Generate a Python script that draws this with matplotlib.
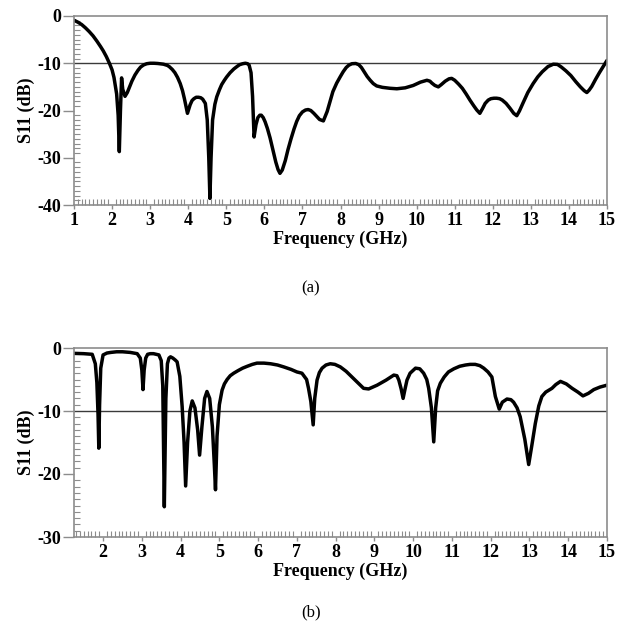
import matplotlib
matplotlib.use("Agg")
import matplotlib.pyplot as plt
from matplotlib.ticker import MultipleLocator

plt.rcParams["font.family"] = ["Liberation Serif", "DejaVu Serif"]
plt.rcParams["axes.unicode_minus"] = False

# Panel (a): measured S11 of the first antenna
freq_a = [1.00, 1.10, 1.20, 1.30, 1.40, 1.50, 1.60, 1.70, 1.77, 1.85, 1.93, 2.00,
          2.05, 2.12, 2.16, 2.19, 2.22, 2.25, 2.28, 2.34, 2.40, 2.45, 2.52, 2.60,
          2.68, 2.75, 2.83, 2.91, 3.00, 3.10, 3.20, 3.35, 3.45, 3.50, 3.58, 3.65,
          3.72, 3.79, 3.85, 3.90, 3.98, 4.05, 4.10, 4.15, 4.21, 4.27, 4.33, 4.38,
          4.45, 4.50, 4.54, 4.57, 4.60, 4.64, 4.70, 4.75, 4.82, 4.88, 4.95, 5.01,
          5.10, 5.20, 5.28, 5.35, 5.43, 5.50, 5.56, 5.60, 5.65, 5.69, 5.73, 5.78,
          5.83, 5.88, 5.92, 5.97, 6.02, 6.08, 6.15, 6.22, 6.30, 6.36, 6.41, 6.47,
          6.55, 6.62, 6.70, 6.78, 6.85, 6.92, 7.00, 7.08, 7.15, 7.22, 7.30, 7.38,
          7.45, 7.55, 7.65, 7.72, 7.80, 7.90, 7.99, 8.07, 8.15, 8.22, 8.30, 8.40,
          8.48, 8.55, 8.62, 8.70, 8.78, 8.86, 8.95, 9.10, 9.30, 9.48, 9.70, 9.91,
          10.10, 10.27, 10.35, 10.40, 10.48, 10.57, 10.65, 10.75, 10.85, 10.92,
          11.00, 11.10, 11.20, 11.30, 11.40, 11.50, 11.58, 11.66, 11.73, 11.80,
          11.88, 11.95, 12.03, 12.10, 12.18, 12.25, 12.35, 12.45, 12.55, 12.63,
          12.70, 12.80, 12.92, 13.06, 13.18, 13.30, 13.45, 13.59, 13.70, 13.80,
          13.92, 14.05, 14.18, 14.30, 14.40, 14.47, 14.53, 14.60, 14.70, 14.80,
          14.90, 15.00]
s11_a = [-0.9, -1.3, -1.8, -2.5, -3.3, -4.2, -5.3, -6.5, -7.4, -8.6, -10.0, -11.4,
         -13.0, -16.5, -21.0, -28.7, -20.0, -13.1, -15.5, -17.0, -16.2, -15.2, -13.8, -12.5,
         -11.5, -10.8, -10.35, -10.1, -10.0, -10.0, -10.05, -10.2, -10.45, -10.7, -11.3, -12.0,
         -13.0, -14.3, -15.8, -17.5, -20.6, -18.8, -17.9, -17.5, -17.2, -17.2, -17.3, -17.6,
         -18.5, -22.0, -30.0, -38.6, -30.0, -22.0, -18.7, -17.1, -15.6, -14.5, -13.6, -12.9,
         -12.0, -11.2, -10.7, -10.3, -10.1, -10.0, -10.1, -10.4, -12.0, -17.0, -25.6, -23.0,
         -21.5, -21.0, -21.0, -21.5, -22.4, -23.8, -25.8, -28.2, -30.9, -32.5, -33.3, -32.6,
         -30.6, -28.3, -26.0, -23.9, -22.3, -21.1, -20.3, -19.9, -19.8, -20.0, -20.6, -21.3,
         -21.9, -22.2, -20.2, -18.2, -16.0, -14.2, -12.9, -11.8, -10.9, -10.4, -10.1, -10.05,
         -10.3, -10.9, -11.8, -12.8, -13.6, -14.3, -14.8, -15.1, -15.3, -15.4, -15.2, -14.7,
         -14.0, -13.6, -13.8, -14.2, -14.7, -15.0, -14.5, -13.8, -13.3, -13.2,
         -13.6, -14.4, -15.3, -16.5, -17.8, -19.0, -19.9, -20.6, -19.6, -18.5,
         -17.8, -17.5, -17.4, -17.4, -17.5, -17.8, -18.5, -19.5, -20.6, -21.1,
         -20.1, -18.3, -16.2, -14.3, -12.9, -11.8, -10.7, -10.2, -10.25, -10.8,
         -11.6, -12.6, -13.9, -15.0, -15.8, -16.2, -15.7, -14.9, -13.4, -12.0,
         -10.7, -9.4]

# Panel (b): measured S11 of the second antenna
freq_b = [1.25, 1.50, 1.72, 1.80, 1.84, 1.87, 1.89, 1.91, 1.94, 2.00, 2.10, 2.20,
          2.35, 2.50, 2.70, 2.88, 2.96, 3.00, 3.03, 3.06, 3.10, 3.15, 3.22, 3.30,
          3.44, 3.50, 3.54, 3.58, 3.62, 3.66, 3.70, 3.74, 3.80, 3.86, 3.91, 3.98,
          4.04, 4.09, 4.13, 4.18, 4.24, 4.30, 4.37, 4.44, 4.49, 4.55, 4.62, 4.68,
          4.75, 4.82, 4.87, 4.90, 4.94, 5.00, 5.07, 5.13, 5.20, 5.28, 5.37, 5.48,
          5.60, 5.72, 5.85, 5.97, 6.15, 6.32, 6.50, 6.66, 6.85, 7.00, 7.13, 7.25,
          7.30, 7.36, 7.42, 7.46, 7.52, 7.58, 7.65, 7.75, 7.86, 7.98, 8.12, 8.27,
          8.42, 8.57, 8.72, 8.85, 9.07, 9.30, 9.50, 9.58, 9.63, 9.69, 9.74, 9.79,
          9.84, 9.92, 10.06, 10.17, 10.27, 10.35, 10.40, 10.47, 10.53, 10.58, 10.63,
          10.70, 10.80, 10.91, 11.05, 11.20, 11.35, 11.47, 11.60, 11.72, 11.82,
          11.93, 12.03, 12.12, 12.22, 12.30, 12.42, 12.52, 12.59, 12.68, 12.76,
          12.88, 12.98, 13.06, 13.15, 13.24, 13.32, 13.42, 13.50, 13.58, 13.68,
          13.80, 13.95, 14.10, 14.25, 14.38, 14.52, 14.66, 14.82, 15.00]
s11_b = [-0.85, -0.9, -1.0, -2.5, -5.5, -10.5, -15.9, -9.0, -3.2, -1.1, -0.8, -0.7,
         -0.6, -0.6, -0.7, -0.9, -1.6, -3.5, -6.6, -3.5, -1.6, -1.0, -0.9, -0.9,
         -1.1, -2.0, -6.0, -25.2, -8.0, -2.5, -1.6, -1.4, -1.6, -1.9, -2.2, -4.5,
         -9.3, -15.0, -21.9, -15.0, -10.0, -8.4, -9.5, -13.0, -17.0, -12.5, -8.0, -6.9,
         -8.0, -12.5, -18.5, -22.5, -14.0, -9.0, -6.7, -5.7, -5.0, -4.4, -4.0, -3.6,
         -3.2, -2.9, -2.6, -2.4, -2.4, -2.5, -2.7, -3.0, -3.4, -3.8, -4.0, -5.0,
         -6.4, -8.5, -12.2, -8.0, -5.1, -3.9, -3.2, -2.7, -2.5, -2.6, -3.0, -3.7,
         -4.6, -5.5, -6.4, -6.5, -5.9, -5.1, -4.3, -4.4, -5.1, -6.5, -8.0, -6.5,
         -5.1, -4.0, -3.2, -3.3, -4.0, -5.0, -6.4, -9.5, -14.9, -9.5, -6.8,
         -5.6, -4.6, -3.8, -3.3, -2.9, -2.7, -2.6, -2.6, -2.8, -3.2,
         -3.8, -4.6, -7.7, -9.7, -8.6, -8.1, -8.2, -8.6, -9.5, -10.9,
         -14.5, -18.5, -15.5, -12.0, -9.2, -7.7, -7.0, -6.7, -6.4, -5.8,
         -5.3, -5.7, -6.4, -7.0, -7.6, -7.2, -6.6, -6.2, -5.9]

x_ticks_a = list(range(1, 16))
x_ticks_b = list(range(2, 16))
y_ticks_a = [0, -10, -20, -30, -40]
y_ticks_b = [0, -10, -20, -30]

W, H = 629, 635
fig = plt.figure(figsize=(W / 100, H / 100), dpi=100)

AX_L, AX_R = 74, 607
panels = [
    dict(top=16, bottom=205, f=freq_a, s=s11_a, xlim=(1, 15), ylim=(-40, 0),
         xt=x_ticks_a, yt=y_ticks_a, cap="(a)", cap_y=288),
    dict(top=348, bottom=537, f=freq_b, s=s11_b, xlim=(1.25, 15), ylim=(-30, 0),
         xt=x_ticks_b, yt=y_ticks_b, cap="(b)", cap_y=612),
]

spine_c = "#8c8c8c"
for p in panels:
    ax = fig.add_axes([AX_L / W, 1 - p["bottom"] / H,
                       (AX_R - AX_L) / W, (p["bottom"] - p["top"]) / H])
    ax.plot(p["f"], p["s"], color="black", lw=2.5, solid_joinstyle="round",
            solid_capstyle="round")
    ax.axhline(-10, color="#3a3a3a", lw=1.0, zorder=1)
    ax.set_xlim(*p["xlim"])
    ax.set_ylim(*p["ylim"])
    ax.set_xticks(p["xt"])
    ax.set_yticks(p["yt"])
    ax.xaxis.set_minor_locator(MultipleLocator(0.1))
    ax.yaxis.set_minor_locator(MultipleLocator(1))
    for sp in ax.spines.values():
        sp.set_color(spine_c)
        sp.set_linewidth(1.2)
    ax.tick_params(axis="both", which="major", direction="out", color=spine_c,
                   width=1.0, labelsize=13)
    ax.tick_params(axis="y", which="major", length=8, pad=1)
    ax.tick_params(axis="x", which="major", length=3, pad=2)
    ax.tick_params(axis="both", which="minor", direction="in", length=4,
                   width=0.8, color=spine_c)
    for lab in ax.get_xticklabels() + ax.get_yticklabels():
        lab.set_fontweight("bold")
    ax.set_xlabel("Frequency (GHz)", fontsize=13, fontweight="bold", labelpad=1)
    ax.set_ylabel("S11 (dB)", fontsize=13, fontweight="bold", labelpad=2)
    fig.text(311 / W, 1 - p["cap_y"] / H, p["cap"], ha="center", va="center",
             fontsize=12)

fig.savefig("out.png", dpi=100)
